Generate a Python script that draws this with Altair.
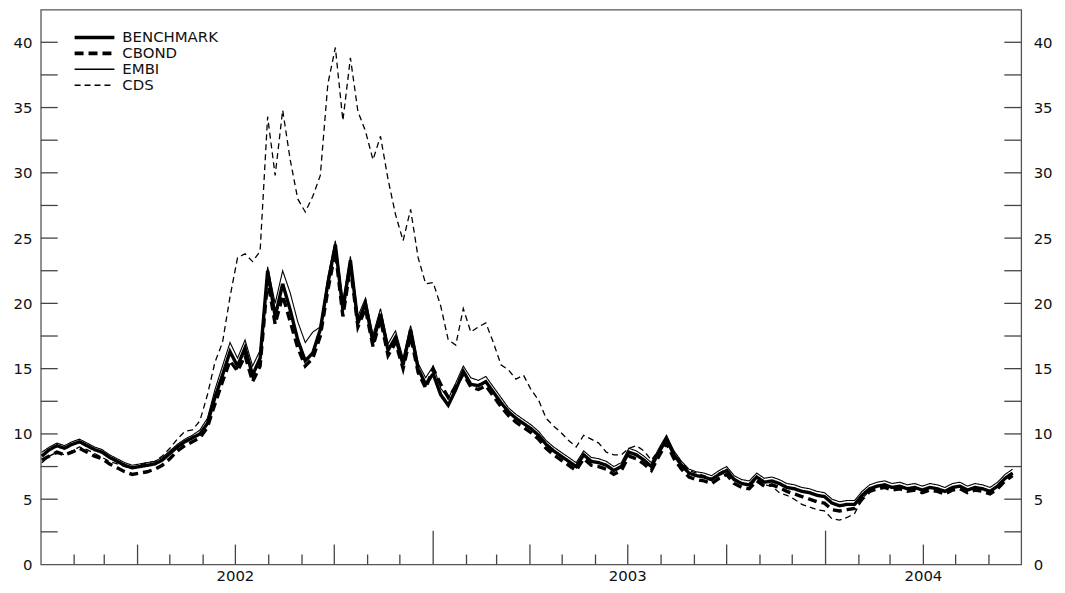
import altair as alt
import pandas as pd

# ---------------- data (weekly readings, percent) ----------------
series_names = ["BENCHMARK", "CBOND", "EMBI", "CDS"]
start_date = "2002-01-02"

benchmark = [8.3, 8.8, 9.1, 8.9, 9.2, 9.4, 9.1, 8.8, 8.6, 8.2,
             7.9, 7.6, 7.4, 7.5, 7.6, 7.7, 8.0, 8.5, 9.0, 9.4,
             9.7, 10.0, 10.8, 12.8, 14.5, 16.3, 15.2, 16.6, 14.5, 15.8,
             22.5, 19.0, 21.5, 19.5, 17.2, 15.6, 16.2, 18.0, 21.5, 24.5,
             19.5, 23.3, 18.5, 20.0, 17.0, 19.2, 16.4, 17.4, 15.3, 18.0,
             15.0, 13.8, 14.6, 13.0, 12.2, 13.4, 14.8, 13.8, 13.7, 14.0,
             13.2, 12.4, 11.7, 11.2, 10.8, 10.4, 9.9, 9.2, 8.7, 8.3,
             7.9, 7.5, 8.4, 7.9, 7.8, 7.6, 7.2, 7.5, 8.6, 8.4,
             8.0, 7.5, 8.6, 9.6, 8.4, 7.6, 7.0, 6.8, 6.7, 6.5,
             6.9, 7.2, 6.5, 6.2, 6.1, 6.7, 6.3, 6.4, 6.2, 5.9,
             5.8, 5.6, 5.5, 5.3, 5.2, 4.7, 4.5, 4.6, 4.6, 5.3,
             5.8, 6.0, 6.1, 5.9, 6.0, 5.8, 5.9, 5.7, 5.9, 5.8,
             5.6, 5.9, 6.0, 5.7, 5.9, 5.8, 5.6, 6.0, 6.6, 7.0]

cbond = [8.0, 8.3, 8.6, 8.4, 8.6, 8.9, 8.6, 8.3, 8.1, 7.7,
         7.4, 7.1, 6.9, 7.0, 7.1, 7.3, 7.6, 8.1, 8.7, 9.1,
         9.4, 9.7, 10.5, 12.3, 14.0, 15.6, 14.8, 16.0, 14.0, 15.2,
         21.8, 18.4, 20.6, 18.6, 16.6, 15.2, 15.8, 17.5, 21.0, 24.0,
         19.0, 22.8, 18.2, 19.6, 16.7, 18.8, 16.0, 17.0, 15.0, 17.5,
         14.7, 13.5, 15.0, 13.8, 12.8, 13.6, 14.6, 13.6, 13.4, 13.7,
         12.9, 12.1, 11.4, 10.9, 10.5, 10.1, 9.6, 8.9, 8.4, 8.0,
         7.6, 7.2, 8.1, 7.6, 7.5, 7.3, 6.9, 7.2, 8.3, 8.1,
         7.7, 7.2, 8.3, 9.3, 8.1, 7.3, 6.7, 6.5, 6.4, 6.2,
         6.6, 6.9, 6.2, 5.9, 5.8, 6.4, 6.0, 6.1, 5.9, 5.6,
         5.4, 5.2, 5.0, 4.8, 4.7, 4.2, 4.1, 4.2, 4.3, 5.0,
         5.6, 5.8, 5.9, 5.7, 5.8, 5.6, 5.7, 5.5, 5.7, 5.6,
         5.4, 5.7, 5.8, 5.5, 5.7, 5.6, 5.4, 5.8, 6.4, 6.8]

embi = [8.6, 9.0, 9.3, 9.1, 9.4, 9.6, 9.3, 9.0, 8.8, 8.4,
        8.1, 7.8, 7.6, 7.7, 7.8, 7.9, 8.2, 8.7, 9.2, 9.6,
        9.9, 10.3, 11.2, 13.4, 15.2, 17.0, 15.8, 17.2, 15.2, 16.4,
        22.8, 20.0, 22.5, 20.8, 18.6, 17.0, 17.8, 18.2, 22.0, 24.8,
        20.2, 23.6, 19.0, 20.4, 17.6, 19.6, 16.9, 17.9, 15.8, 18.3,
        15.4, 14.3, 15.2, 13.5, 12.7, 13.9, 15.2, 14.3, 14.1, 14.4,
        13.6, 12.8, 12.0, 11.5, 11.1, 10.7, 10.2, 9.5, 9.0, 8.6,
        8.2, 7.8, 8.7, 8.2, 8.1, 7.9, 7.5, 7.8, 8.9, 8.7,
        8.3, 7.8, 8.9, 9.9, 8.7, 7.9, 7.3, 7.1, 7.0, 6.8,
        7.2, 7.5, 6.8, 6.5, 6.4, 7.0, 6.6, 6.7, 6.5, 6.2,
        6.1, 5.9, 5.8, 5.6, 5.5, 5.0, 4.8, 4.9, 4.9, 5.6,
        6.1, 6.3, 6.4, 6.2, 6.3, 6.1, 6.2, 6.0, 6.2, 6.1,
        5.9, 6.2, 6.3, 6.0, 6.2, 6.1, 5.9, 6.3, 6.9, 7.3]

cds = [7.8, 8.3, 8.6, 8.4, 8.7, 9.0, 8.8, 8.5, 8.2, 7.9,
       7.7, 7.5, 7.4, 7.6, 7.8, 7.9, 8.3, 8.9, 9.6, 10.2,
       10.3, 11.0, 13.0, 15.5, 17.0, 20.5, 23.5, 23.8, 23.2, 24.0,
       34.3, 29.8, 34.8, 31.0, 28.0, 27.0, 28.2, 29.8, 36.8, 39.6,
       34.0, 38.8, 34.7, 33.2, 31.0, 32.8, 29.5, 26.8, 24.8, 27.2,
       23.5, 21.5, 21.6, 19.8, 17.2, 16.8, 19.6, 17.8, 18.2, 18.5,
       17.0, 15.3, 14.9, 14.2, 14.5, 13.4, 12.6, 11.2, 10.6, 10.1,
       9.5, 9.0, 9.9, 9.6, 9.3, 8.6, 8.4, 8.4, 8.9, 9.1,
       8.7, 8.0, 8.8, 9.8, 8.6, 7.8, 7.2, 7.0, 6.8, 6.6,
       7.0, 7.3, 6.6, 6.2, 6.0, 6.5, 6.1, 6.0, 5.5, 5.3,
       5.0, 4.6, 4.4, 4.2, 4.1, 3.5, 3.4, 3.6, 3.9, 5.0,
       5.7, 6.0, 6.1, 5.9, 6.0, 5.8, 5.9, 5.7, 5.9, 5.8,
       5.6, 5.9, 6.0, 5.7, 5.9, 5.8, 5.6, 6.0, 6.6, 7.0]

# line styles per series (dash pattern, width)
line_dash = [[1, 0], [9, 5], [1, 0], [6, 4]]
line_width = [3.4, 3.4, 1.1, 1.3]

# axis decorations
y_label_values = [0, 5, 10, 15, 20, 25, 30, 35, 40]
y_tick_values = [2.5, 5, 7.5, 10, 12.5, 15, 17.5, 20, 22.5, 25, 27.5, 30, 32.5, 35, 37.5, 40]
month_ticks = ["2002-02-01", "2002-03-01", "2002-05-01", "2002-06-01", "2002-08-01",
               "2002-09-01", "2002-11-01", "2002-12-01", "2003-02-01", "2003-03-01",
               "2003-05-01", "2003-06-01", "2003-08-01", "2003-09-01", "2003-11-01",
               "2003-12-01", "2004-02-01", "2004-03-01", "2004-05-01", "2004-06-01"]
quarter_ticks = ["2002-04-01", "2002-07-01", "2002-10-01", "2003-04-01", "2003-07-01",
                 "2003-10-01", "2004-04-01"]
year_ticks = ["2003-01-01", "2004-01-01"]
year_labels = ["2002", "2003", "2004"]
year_label_dates = ["2002-07-01", "2003-07-01", "2004-04-01"]

# ---------------- build tables ----------------
dates = pd.date_range(start_date, periods=len(benchmark), freq="7D").strftime("%Y-%m-%d")
rows = []
for name, vals in zip(series_names, [benchmark, cbond, embi, cds]):
    for d, v in zip(dates, vals):
        rows.append({"date": d, "series": name, "value": v})
df = pd.DataFrame(rows)

W, H = 986, 558
FONT = "DejaVu Sans"

x_scale = alt.Scale(domain=[alt.DateTime(year=2002, month=1, date=1),
                            alt.DateTime(year=2004, month=7, date=1)])
y_scale = alt.Scale(domain=[0, 42.5], nice=False)

base = alt.Chart(df)
line_layers = []
for name, dash, wdt in zip(series_names, line_dash, line_width):
    line_layers.append(
        base.transform_filter(alt.datum.series == name)
        .mark_line(color="black", strokeDash=dash, strokeWidth=wdt)
        .encode(x=alt.X("date:T", scale=x_scale, axis=None),
                y=alt.Y("value:Q", scale=y_scale, axis=None))
    )

# manual legend (layout positions in pixels)
legend_layers = []
for i, (name, dash, wdt) in enumerate(zip(series_names, line_dash, line_width)):
    ly = 28 + 16 * i
    ldf = pd.DataFrame({"series": [name], "ly": [ly]})
    legend_layers.append(
        alt.Chart(ldf).mark_rule(color="black", strokeDash=dash, strokeWidth=wdt + 0.3)
        .encode(x=alt.value(34), x2=alt.value(74), y=alt.Y("ly:Q", scale=None))
    )
    legend_layers.append(
        alt.Chart(ldf).mark_text(font=FONT, fontSize=15, color="#111",
                                 align="left", baseline="middle")
        .encode(x=alt.value(82), y=alt.Y("ly:Q", scale=None), text="series:N")
    )

ytick_df = pd.DataFrame({"v": y_tick_values})
left_axis = alt.Axis(values=y_label_values, ticks=False, domain=False, grid=False,
                     title=None, labelFontSize=15, labelFont=FONT, labelColor="#111",
                     labelPadding=9, orient="left")
right_axis = alt.Axis(values=y_label_values, ticks=False, domain=False, grid=False,
                      title=None, labelFontSize=15, labelFont=FONT, labelColor="#111",
                      labelPadding=12, orient="right")

left_ticks = alt.Chart(ytick_df).mark_rule(color="#444", strokeWidth=1.3).encode(
    y=alt.Y("v:Q", scale=y_scale, axis=left_axis),
    x=alt.value(0), x2=alt.value(17))
right_ticks = alt.Chart(ytick_df).mark_rule(color="#444", strokeWidth=1.3).encode(
    y=alt.Y("v:Q", scale=y_scale, axis=right_axis),
    x=alt.value(W - 17), x2=alt.value(W))


def xticks(dates_list, length):
    return alt.Chart(pd.DataFrame({"d": dates_list})).mark_rule(
        color="#444", strokeWidth=1.3).encode(
        x=alt.X("d:T", scale=x_scale, axis=None),
        y=alt.value(H), y2=alt.value(H - length))


labels = alt.Chart(pd.DataFrame({"d": year_label_dates, "t": year_labels})).mark_text(
    font=FONT, fontSize=15, color="#111", baseline="alphabetic", align="center").encode(
    x=alt.X("d:T", scale=x_scale, axis=None),
    y=alt.value(H + 17),
    text="t:N")

chart = alt.layer(
    *line_layers, left_ticks, right_ticks,
    xticks(month_ticks, 10), xticks(quarter_ticks, 20), xticks(year_ticks, 34),
    labels, *legend_layers,
).resolve_axis(y="independent").properties(
    width=W, height=H,
    autosize=alt.AutoSizeParams(type="none"),
    padding={"left": 33, "right": 36, "top": 0, "bottom": 19},
).configure(font=FONT).configure_view(stroke="#555", strokeWidth=1.3)

chart.save("out.html", embed_options={"renderer": "svg", "actions": False})
